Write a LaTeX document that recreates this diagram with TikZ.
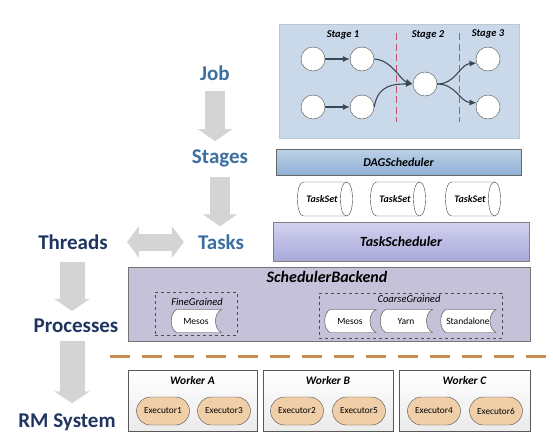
\documentclass[tikz,border=0pt]{standalone}
\usepackage{fontspec}
\setmainfont{Carlito}
\usetikzlibrary{arrows.meta,shapes.misc}

\definecolor{jobblue}{HTML}{3B6FA0}
\definecolor{navyblue}{HTML}{1F3560}
\definecolor{stagebg}{HTML}{C9D9EA}
\definecolor{dagtop}{HTML}{BDD1E7}
\definecolor{dagbot}{HTML}{8FB0D4}
\definecolor{tstop}{HTML}{D2D2EF}
\definecolor{tsbot}{HTML}{A9A9DA}
\definecolor{backfill}{HTML}{C4C1D9}
\definecolor{execfill}{HTML}{F0CFA8}
\definecolor{sepline}{HTML}{C98E52}
\definecolor{blockgray}{HTML}{D4D4D4}
\definecolor{stagered}{HTML}{C2506E}
\definecolor{flowcol}{HTML}{3A4652}

\begin{document}
\begin{tikzpicture}[x=1pt, y=-1pt,
	level/.style = {font=\fontsize{21}{23}\selectfont\bfseries, inner sep=0pt},
	bigarrow/.style = {line width=20pt, draw=blockgray, -{Triangle[width=34pt, length=12pt]}},
	boxtitle/.style = {font=\bfseries\itshape},
	circ/.style = {circle, draw=black!70, fill=white, minimum size=24pt, inner sep=0pt},
	flow/.style = {draw=flowcol, line width=1.1pt, -{Latex[length=7pt, width=6pt]}},
	outline/.style = {draw=black!75, fill=white},
	storetext/.style = {font=\fontsize{9.5}{11}\selectfont, inner sep=0pt},
	worker/.style = {draw=black!65, top color=white, bottom color=black!8, minimum height=61pt},
	executor/.style = {rounded rectangle, draw=black!70, fill=execfill, minimum width=55pt, minimum height=28pt, font=\fontsize{9.3}{11}\selectfont, inner sep=1pt}
	]
	
	\useasboundingbox (0,0) rectangle (553,447);
	
	% left column
	\node[level, text=jobblue] (Job) at (215,73) {Job};
	\node[level, text=jobblue] (Stages) at (220,158) {Stages};
	\node[level, text=jobblue] (Tasks) at (221,242) {Tasks};
	\node[level, text=navyblue] (Threads) at (73,242) {Threads};
	\node[level, text=navyblue] (Processes) at (76,326) {Processes};
	\node[level, text=navyblue] (RMSystem) at (67,422) {RM System};
	
	\draw[bigarrow, shorten <=10pt, shorten >=8pt] (Job.south) to (Job.south |- Stages.north);
	\draw[bigarrow, shorten <=10pt, shorten >=8pt] (Stages.south) to (Stages.south |- Tasks.north);
	\draw[bigarrow, line width=17pt, {Triangle[width=31pt, length=12pt]}-{Triangle[width=31pt, length=12pt]}, shorten <=19pt, shorten >=14pt] (Threads.east) to (Tasks.west);
	\draw[bigarrow, line width=25pt, -{Triangle[width=35pt, length=12pt]}, shorten <=12pt, shorten >=8pt] (Threads.south -| 72,0) to (72,0 |- Processes.north);
	\draw[bigarrow, line width=25pt, -{Triangle[width=35pt, length=12pt]}, shorten <=8pt, shorten >=10pt] (Processes.south -| 72,0) to (72,0 |- RMSystem.north);
	
	% stages
	\node[fill=stagebg, draw=stagebg!80!gray, minimum width=240pt, minimum height=114pt] (stagebox) at (399,81) {};
	\node[boxtitle, font=\fontsize{10.5}{12}\selectfont\bfseries\itshape] (st1) at (343,35) {Stage 1};
	\node[boxtitle, font=\fontsize{10.5}{12}\selectfont\bfseries\itshape] (st2) at (428,35) {Stage 2};
	\node[boxtitle, font=\fontsize{10.5}{12}\selectfont\bfseries\itshape] (st3) at (488,34) {Stage 3};
	\draw[stagered, line width=1pt, dash pattern=on 7pt off 3.5pt] (396,33) -- (396,122);
	\draw[stagered, line width=1pt, dash pattern=on 7pt off 3.5pt] (459,33) -- (459,122);
	
	\node[circ] (s1a) at (313,59) {};
	\node[circ] (s1b) at (362,59) {};
	\node[circ] (s1c) at (313,107) {};
	\node[circ] (s1d) at (362,107) {};
	\node[circ] (s2) at (425,84) {};
	\node[circ] (s3a) at (488,59) {};
	\node[circ] (s3b) at (488,107) {};
	
	\draw[flow] (s1a) -- (s1b);
	\draw[flow] (s1c) -- (s1d);
	\draw[flow] (s1b.east) .. controls (392,60) and (400,80) .. (s2.west);
	\draw[flow] (s1d.east) .. controls (378,84) and (395,84) .. (s2.west);
	\draw[flow] (s2.east) .. controls (456,84) and (460,64) .. (s3a.200);
	\draw[flow] (s2.east) .. controls (456,84) and (460,102) .. (s3b.160);
	
	% schedulers
	\node[boxtitle, draw=black!60, top color=dagtop, bottom color=dagbot, minimum width=245pt, minimum height=26pt, font=\fontsize{12}{14}\selectfont\bfseries\itshape] (dag) at (398.5,162) {DAGScheduler};
	\foreach \n/\x in {ts1/325, ts2/398, ts3/473}{
		\draw[outline] (\x-21.5,182) -- (\x+21.5,182) .. controls (\x+29.5,182) and (\x+29.5,216) .. (\x+21.5,216) -- (\x-21.5,216) .. controls (\x-29.5,216) and (\x-29.5,182) .. cycle;
		\draw[black!75] (\x+21.5,182) .. controls (\x+13.5,182) and (\x+13.5,216) .. (\x+21.5,216);
		\node[font=\fontsize{10}{12}\selectfont\bfseries\itshape, inner sep=0pt] (\n) at (\x-3,199) {TaskSet};
	}
	\node[boxtitle, draw=black!50, top color=tstop, bottom color=tsbot, minimum width=256pt, minimum height=39pt, font=\fontsize{14}{16}\selectfont\bfseries\itshape] (tsched) at (401,241.5) {TaskScheduler};
	
	% backend
	\node[draw=black!55, fill=backfill, minimum width=402pt, minimum height=74pt] (backend) at (329,304) {};
	\node[boxtitle, font=\fontsize{16}{18}\selectfont\bfseries\itshape] (backendlabel) at (327,277) {SchedulerBackend};
	\node[draw=black!70, dashed, minimum width=82pt, minimum height=43pt] (fine) at (196,313.5) {};
	\node[font=\fontsize{10.5}{12}\selectfont\itshape, inner sep=0pt] (finelabel) at (197,302) {FineGrained};
	\node[draw=black!70, dashed, minimum width=183pt, minimum height=45pt] (coarse) at (410.5,315.5) {};
	\node[font=\fontsize{10.5}{12}\selectfont\itshape, inner sep=0pt] (coarselabel) at (409,299) {CoarseGrained};
	
	\foreach \n/\x/\w/\t in {finemesos/196/51/Mesos, coarsemesos/350/52/Mesos, yarn/406/53/Yarn, standalone/468/56/Standalone}{
		\draw[outline] (\x-\w/2+6,309.5) -- (\x+\w/2,309.5) .. controls (\x+\w/2-8,313) and (\x+\w/2-8,329) .. (\x+\w/2,332.5) -- (\x-\w/2+6,332.5) .. controls (\x-\w/2-1,329) and (\x-\w/2-1,313) .. cycle;
		\node[storetext] (\n) at (\x,321) {\t};
	}
	
	\draw[sepline, line width=3pt, dash pattern=on 20pt off 12pt] (110,356) -- (548,356);
	
	% workers
	\node[worker, minimum width=129pt] (wa) at (192.5,400.5) {};
	\node[worker, minimum width=130pt] (wb) at (328,400.5) {};
	\node[worker, minimum width=131pt] (wc) at (464.5,400.5) {};
	\node[boxtitle, font=\fontsize{11.5}{13}\selectfont\bfseries\itshape] (walabel) at (192.5,380) {Worker A};
	\node[boxtitle, font=\fontsize{11.5}{13}\selectfont\bfseries\itshape] (wblabel) at (328,380) {Worker B};
	\node[boxtitle, font=\fontsize{11.5}{13}\selectfont\bfseries\itshape] (wclabel) at (464.5,380) {Worker C};
	
	\node[executor] (e1) at (163,411) {Executor1};
	\node[executor] (e3) at (224,411) {Executor3};
	\node[executor] (e2) at (297,411) {Executor2};
	\node[executor] (e5) at (359,411) {Executor5};
	\node[executor] (e4) at (434,411) {Executor4};
	\node[executor] (e6) at (496,411) {Executor6};
\end{tikzpicture}
\end{document}
